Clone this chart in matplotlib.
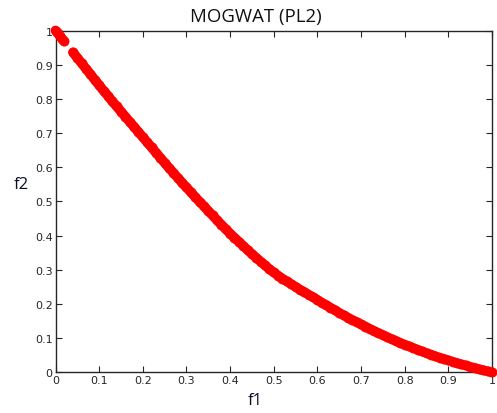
import matplotlib
matplotlib.use("Agg")
import matplotlib.pyplot as plt

# upper-left cluster of the front
f1_top = [0.00, 0.005, 0.01, 0.015, 0.02]
f2_top = [1.000, 0.992, 0.984, 0.976, 0.968]

# main continuous part of the front
f1 = [0.04, 0.05, 0.06, 0.07, 0.08, 0.09, 0.10, 0.11, 0.12, 0.13, 0.14,
      0.15, 0.16, 0.17, 0.18, 0.19, 0.20, 0.21, 0.22, 0.23, 0.24,
      0.25, 0.26, 0.27, 0.28, 0.29, 0.30, 0.31, 0.32, 0.33, 0.34,
      0.35, 0.36, 0.37, 0.38, 0.39, 0.40, 0.41, 0.42, 0.43, 0.44,
      0.45, 0.46, 0.47, 0.48, 0.49, 0.50, 0.51, 0.52, 0.53, 0.54,
      0.55, 0.56, 0.57, 0.58, 0.59, 0.60, 0.61, 0.62, 0.63, 0.64,
      0.65, 0.66, 0.67, 0.68, 0.69, 0.70, 0.71, 0.72, 0.73, 0.74,
      0.75, 0.76, 0.77, 0.78, 0.79, 0.80, 0.81, 0.82, 0.83, 0.84,
      0.85, 0.86, 0.87, 0.88, 0.89, 0.90, 0.91, 0.92, 0.93, 0.94,
      0.95, 0.96, 0.97, 0.98, 0.99, 1.00]
f2 = [0.936, 0.920, 0.904, 0.888, 0.872, 0.856, 0.840, 0.824, 0.809, 0.793, 0.778,
      0.763, 0.748, 0.733, 0.718, 0.703, 0.688, 0.673, 0.658, 0.643, 0.628,
      0.613, 0.598, 0.584, 0.569, 0.555, 0.541, 0.527, 0.513, 0.499, 0.486,
      0.472, 0.459, 0.445, 0.432, 0.419, 0.406, 0.394, 0.382, 0.370, 0.358,
      0.346, 0.335, 0.324, 0.313, 0.302, 0.292, 0.283, 0.274, 0.266, 0.258,
      0.250, 0.242, 0.235, 0.227, 0.220, 0.212, 0.204, 0.197, 0.189, 0.182,
      0.174, 0.167, 0.160, 0.153, 0.147, 0.140, 0.134, 0.127, 0.121, 0.115,
      0.109, 0.103, 0.097, 0.092, 0.086, 0.081, 0.076, 0.071, 0.066, 0.061,
      0.056, 0.052, 0.047, 0.043, 0.039, 0.035, 0.031, 0.027, 0.023, 0.020,
      0.016, 0.013, 0.009, 0.006, 0.003, 0.000]

ticks = [0, 0.1, 0.2, 0.3, 0.4, 0.5, 0.6, 0.7, 0.8, 0.9, 1]
tick_labels = ["0", "0.1", "0.2", "0.3", "0.4", "0.5", "0.6", "0.7", "0.8", "0.9", "1"]

fig = plt.figure(figsize=(4.97, 4.14), dpi=100)
ax = fig.add_axes([0.1117, 0.0983, 0.8782, 0.8256])
for xs, ys in ((f1_top, f2_top), (f1, f2)):
    ax.plot(xs, ys, linestyle="-", linewidth=7.0, color="#ff0000",
            solid_capstyle="round", solid_joinstyle="round",
            marker="o", markersize=6.6, markerfacecolor="#ff0000",
            markeredgecolor="#ff0000", markeredgewidth=0.5,
            clip_on=False, zorder=3)
ax.set_xlim(0, 1)
ax.set_ylim(0, 1)
ax.set_xticks(ticks)
ax.set_xticklabels(tick_labels)
ax.set_yticks(ticks)
ax.set_yticklabels(tick_labels)
ax.tick_params(direction="in", length=4, width=0.8, top=True, right=True,
               labelsize=8, labelcolor="#262626", color="#262626", pad=2)
for s in ax.spines.values():
    s.set_linewidth(1.0)
    s.set_color("#262626")

fig.text(0.514, 0.960, "MOGWAT (PL2)", ha="center", va="center",
         fontsize=13.4, family="Open Sans", color="#111111")
fig.text(0.513, 0.032, "f1", ha="center", va="center",
         fontsize=12, family="Open Sans", color="#0d0d2a")
fig.text(0.042, 0.553, "f2", ha="center", va="center",
         fontsize=12, family="Open Sans", color="#0d0d2a")

fig.savefig("out.png", dpi=100)
